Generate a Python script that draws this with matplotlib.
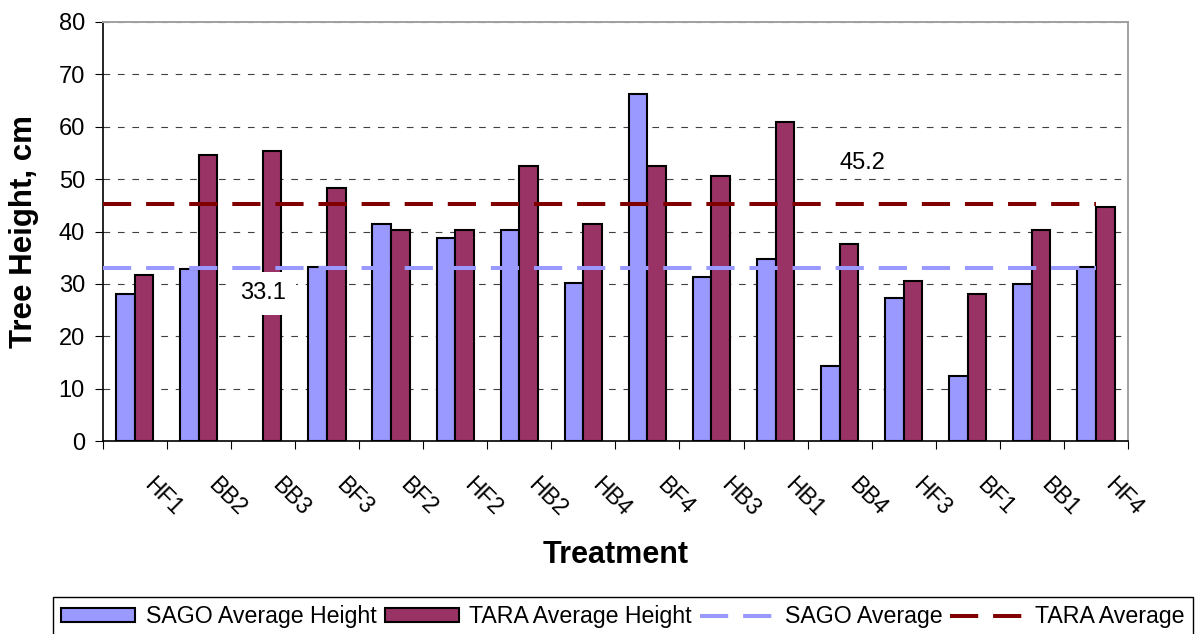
import matplotlib
matplotlib.use('Agg')
import matplotlib.pyplot as plt
import matplotlib.transforms as mtransforms
import numpy as np

# tree height per treatment, cm (SAGO has no BB3 value)
treatments = ["HF1", "BB2", "BB3", "BF3", "BF2", "HF2", "HB2", "HB4",
              "BF4", "HB3", "HB1", "BB4", "HF3", "BF1", "BB1", "HF4"]
sago_height = [28.1, 32.9, np.nan, 33.3, 41.4, 38.7, 40.3, 30.2,
               66.2, 31.4, 34.7, 14.3, 27.3, 12.5, 29.9, 33.3]
tara_height = [31.7, 54.7, 55.4, 48.4, 40.3, 40.3, 52.5, 41.4,
               52.5, 50.6, 60.9, 37.7, 30.6, 28.1, 40.3, 44.7]
sago_avg = 33.1
tara_avg = 45.2

plt.rcParams['font.family'] = ['Liberation Sans', 'DejaVu Sans']

fig = plt.figure(figsize=(11.98, 6.34), dpi=100)
ax = fig.add_axes([0.0857, 0.3044, 0.8559, 0.6609])

x = np.arange(len(treatments))
w = 0.29
ax.bar(x - w / 2, sago_height, w, color='#9999FF', edgecolor='black',
       linewidth=1.5, label='SAGO Average Height', zorder=2)
ax.bar(x + w / 2, tara_height, w, color='#993366', edgecolor='black',
       linewidth=1.5, label='TARA Average Height', zorder=2)

# average lines run from the axis edge to the last category
xs = [-0.5, x[-1]]
ax.plot(xs, [sago_avg, sago_avg], color='#9999FF', lw=2.9, dashes=(7, 3.7),
        label='SAGO Average', zorder=3)
ax.plot(xs, [tara_avg, tara_avg], color='#800000', lw=2.9, dashes=(7, 3.7),
        label='TARA Average', zorder=3)

ax.text(2.0, 28.2, "%.1f" % sago_avg, ha='center', va='center', fontsize=17,
        bbox=dict(boxstyle='square,pad=0.45', fc='white', ec='none'), zorder=4)
ax.text(11.36, 53.0, "%.1f" % tara_avg, ha='center', va='center', fontsize=17,
        zorder=4)

ax.set_xlim(-0.5, len(treatments) - 0.5)
ax.set_ylim(0, 80)
ax.set_yticks(range(0, 81, 10))
ax.tick_params(axis='y', direction='out', length=5.8, width=0.8, pad=7,
               labelsize=17)

ax.set_xticks(np.arange(-0.5, len(treatments), 1), minor=True)
ax.set_xticks(x, treatments, rotation=-45, ha='left', va='top',
              rotation_mode='anchor', fontsize=16.5)
ax.tick_params(axis='x', which='major', length=0, pad=23)
ax.tick_params(axis='x', which='minor', direction='out', length=5.8, width=0.8)
offset = mtransforms.ScaledTranslation(0.21, 0, fig.dpi_scale_trans)
for lbl in ax.get_xticklabels():
    lbl.set_transform(lbl.get_transform() + offset)

ax.set_axisbelow(True)
ax.yaxis.grid(True, color='#404040', lw=0.8, linestyle=(0, (6, 7)))

for side in ['left', 'bottom']:
    ax.spines[side].set_color('black')
    ax.spines[side].set_linewidth(1.2)
for side in ['top', 'right']:
    ax.spines[side].set_color('#a0a0a0')
    ax.spines[side].set_linewidth(1.4)

ax.set_ylabel("Tree Height, cm", fontsize=22.5, fontweight='bold')
ax.yaxis.set_label_coords(-0.0772, 0.5)
ax.yaxis.label.set_va('center')
ax.set_xlabel("Treatment", fontsize=22, fontweight='bold')
ax.xaxis.set_label_coords(0.5, -0.272)
ax.xaxis.label.set_va('center')

handles, labels = ax.get_legend_handles_labels()
order = [2, 3, 0, 1]
leg = fig.legend([handles[i] for i in order], [labels[i] for i in order],
                 loc='upper left', bbox_to_anchor=(53 / 1198, 1 - 597 / 634),
                 ncol=4, fontsize=16.7, frameon=True, fancybox=False,
                 edgecolor='black', framealpha=1, handlelength=3.2,
                 handleheight=0.55, handletextpad=0.45, columnspacing=0.35,
                 borderpad=0.35, borderaxespad=0)
leg.get_frame().set_linewidth(1)

fig.savefig('out.png', dpi=100)
